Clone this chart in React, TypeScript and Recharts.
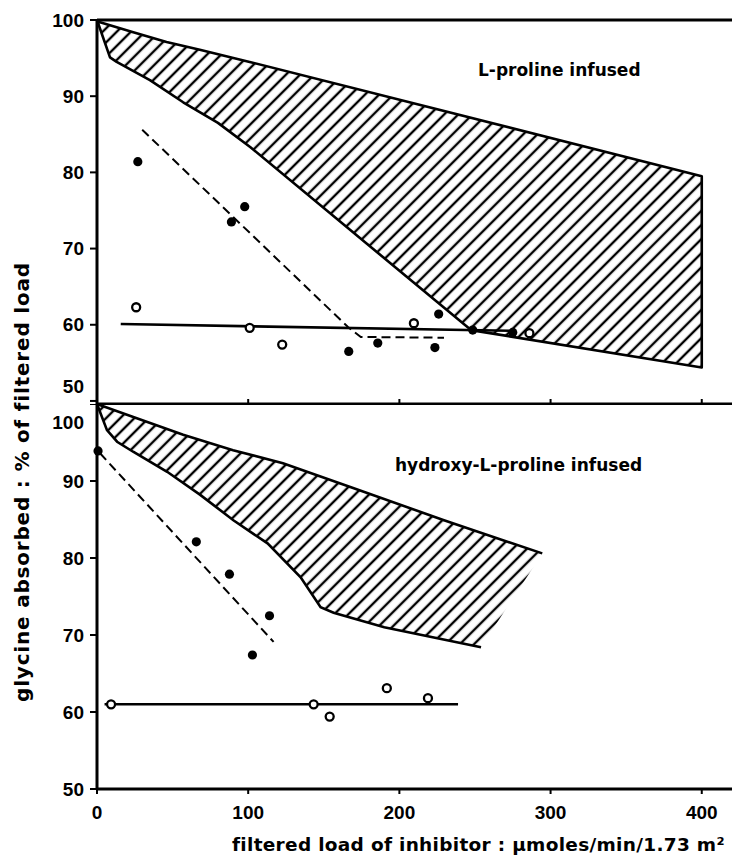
import React from "react";
import { ComposedChart, XAxis, YAxis, Line, Scatter } from "recharts";

// x = filtered load of inhibitor (µmoles/min/1.73 m²), y = glycine absorbed (% of filtered load)

// ---- top panel: L-proline infused
const lpBandUpperX = [0, 2, 24, 46, 68, 101, 400];
const lpBandUpperY = [100, 99.7, 98.4, 97.1, 96.1, 94.5, 79.5];
const lpBandLowerX = [0, 8.6, 13, 35, 57, 80, 101.5, 247.4, 400];
const lpBandLowerY = [100, 95.1, 94.5, 92.1, 89.2, 86.5, 83.3, 59.3, 54.4];
const lpFilledX = [27, 88.9, 97.7, 166.5, 185.7, 223.5, 226, 248.5, 275];
const lpFilledY = [81.4, 73.5, 75.5, 56.5, 57.6, 57.0, 61.4, 59.3, 59.0];
const lpOpenX = [25.9, 101, 122.5, 209.6, 286];
const lpOpenY = [62.3, 59.6, 57.4, 60.2, 58.9];
const lpSolidX = [15.7, 275];
const lpSolidY = [60.1, 59.2];
const lpDashX = [29.9, 166, 174.5, 229.5];
const lpDashY = [85.6, 59.7, 58.4, 58.3];

// ---- bottom panel: hydroxy-L-proline infused
const hpBandUpperX = [0, 24, 57, 90, 123, 168, 229.5, 294.5];
const hpBandUpperY = [100, 98.3, 96.0, 94.0, 92.3, 89.2, 84.9, 80.6];
const hpBandLowerX = [0, 6.6, 13.3, 23.9, 46.4, 68.3, 90.2, 112.8, 134.7, 147.9, 156.5, 190, 254];
const hpBandLowerY = [100, 96.6, 95.1, 93.8, 91.2, 88.2, 84.9, 81.9, 77.5, 73.6, 72.9, 71.0, 68.4];
const hpFilledX = [0.7, 65.7, 87.6, 102.8, 114.1];
const hpFilledY = [93.9, 82.1, 77.9, 67.4, 72.5];
const hpOpenX = [9.3, 143.3, 153.9, 191.7, 218.9];
const hpOpenY = [61.0, 61.0, 59.4, 63.1, 61.8];
const hpSolidX = [5, 238.8];
const hpSolidY = [61.0, 61.0];
const hpDashX = [2, 116.8];
const hpDashY = [93.6, 69.1];

const xTicks = [0, 100, 200, 300, 400];
const yTicks = [50, 60, 70, 80, 90, 100];

const zip = (xs: number[], ys: number[]) => xs.map((x, i) => ({ x, y: ys[i] }));
const polygon = (ux: number[], uy: number[], lx: number[], ly: number[]) => [
  ...zip(ux, uy),
  ...zip(lx, ly).reverse(),
];

const TICK_FONT = "'Liberation Sans', Arial, sans-serif";
const TEXT_FONT = "'DejaVu Sans', sans-serif";
const X_DOMAIN: [number, number] = [0, 420];

const FilledDot = (p: any) => <circle cx={p.cx} cy={p.cy} r={4.6} fill="#000" />;
const OpenDot = (p: any) => (
  <circle cx={p.cx} cy={p.cy} r={4} fill="#fff" stroke="#000" strokeWidth={2.3} />
);
const NoDot = () => <g />;
const NoTick = () => <g />;

const makeYTick = (shift: Record<number, number>) => (props: any) => {
  const { y, payload } = props;
  return (
    <text
      x={84}
      y={y + (shift[payload.value] || 0)}
      textAnchor="end"
      dominantBaseline="central"
      fontFamily={TICK_FONT}
      fontWeight="bold"
      fontSize={19}
      fill="#000"
    >
      {payload.value}
    </text>
  );
};

const XTick = (props: any) => {
  const { x, y, payload } = props;
  return (
    <text
      x={x}
      y={y}
      dy="0.71em"
      textAnchor="middle"
      fontFamily={TICK_FONT}
      fontWeight="bold"
      fontSize={19}
      fill="#000"
    >
      {payload.value}
    </text>
  );
};

const HatchDefs = ({ id }: { id: string }) => (
  <defs>
    <pattern id={id} patternUnits="userSpaceOnUse" width={10} height={10} patternTransform="rotate(45)">
      <line x1={5} y1={0} x2={5} y2={10} stroke="#000" strokeWidth={2.4} />
    </pattern>
  </defs>
);

const axisLine = { stroke: "#000", strokeWidth: 3 };
const tickLine = { stroke: "#000", strokeWidth: 2 };

function TopPanel() {
  return (
    <ComposedChart width={732} height={405} margin={{ top: 0, right: 0, bottom: 0, left: 0 }}>
      <HatchDefs id="hatchTop" />
      <XAxis
        xAxisId="top"
        orientation="top"
        dataKey="x"
        type="number"
        domain={X_DOMAIN}
        ticks={[100, 200, 300, 400]}
        interval={0}
        height={20}
        tickSize={5}
        tick={NoTick}
        axisLine={axisLine}
        tickLine={tickLine}
      />
      <XAxis
        dataKey="x"
        type="number"
        domain={X_DOMAIN}
        ticks={[100, 200, 300, 400]}
        interval={0}
        height={1}
        tickSize={-5}
        tick={NoTick}
        axisLine={axisLine}
        tickLine={tickLine}
      />
      <YAxis
        dataKey="y"
        type="number"
        domain={[49.6, 100]}
        ticks={yTicks}
        interval={0}
        width={97}
        tickSize={7}
        tick={makeYTick({ 50: -14 })}
        axisLine={axisLine}
        tickLine={tickLine}
      />
      <Scatter
        data={polygon(lpBandUpperX, lpBandUpperY, lpBandLowerX, lpBandLowerY)}
        dataKey="y"
        shape={NoDot}
        line={{ fill: "url(#hatchTop)", stroke: "#000", strokeWidth: 2.6, strokeLinejoin: "round" }}
        isAnimationActive={false}
      />
      <Line data={zip(lpSolidX, lpSolidY)} dataKey="y" type="linear" stroke="#000" strokeWidth={2.6} dot={false} isAnimationActive={false} />
      <Line data={zip(lpDashX, lpDashY)} dataKey="y" type="linear" stroke="#000" strokeWidth={2} strokeDasharray="9 5" dot={false} isAnimationActive={false} />
      <Scatter data={zip(lpFilledX, lpFilledY)} dataKey="y" shape={FilledDot} isAnimationActive={false} />
      <Scatter data={zip(lpOpenX, lpOpenY)} dataKey="y" shape={OpenDot} isAnimationActive={false} />
    </ComposedChart>
  );
}

function BottomPanel() {
  return (
    <ComposedChart width={732} height={457} margin={{ top: 0, right: 0, bottom: 0, left: 0 }}>
      <HatchDefs id="hatchBottom" />
      <XAxis
        dataKey="x"
        type="number"
        domain={X_DOMAIN}
        ticks={xTicks}
        interval={0}
        height={72}
        tickSize={5}
        tickMargin={12}
        tick={XTick}
        axisLine={axisLine}
        tickLine={tickLine}
      />
      <YAxis
        dataKey="y"
        type="number"
        domain={[50, 100]}
        ticks={yTicks}
        interval={0}
        width={97}
        tickSize={7}
        tick={makeYTick({ 100: 18 })}
        axisLine={axisLine}
        tickLine={tickLine}
      />
      <Scatter
        data={polygon(hpBandUpperX, hpBandUpperY, hpBandLowerX, hpBandLowerY)}
        dataKey="y"
        shape={NoDot}
        line={{ fill: "url(#hatchBottom)", stroke: "none" }}
        isAnimationActive={false}
      />
      <Line data={zip(hpBandUpperX, hpBandUpperY)} dataKey="y" type="linear" stroke="#000" strokeWidth={2.6} dot={false} isAnimationActive={false} />
      <Line data={zip(hpBandLowerX, hpBandLowerY)} dataKey="y" type="linear" stroke="#000" strokeWidth={2.6} dot={false} isAnimationActive={false} />
      <Line data={zip(hpSolidX, hpSolidY)} dataKey="y" type="linear" stroke="#000" strokeWidth={2.6} dot={false} isAnimationActive={false} />
      <Line data={zip(hpDashX, hpDashY)} dataKey="y" type="linear" stroke="#000" strokeWidth={2} strokeDasharray="9 5" dot={false} isAnimationActive={false} />
      <Scatter data={zip(hpFilledX, hpFilledY)} dataKey="y" shape={FilledDot} isAnimationActive={false} />
      <Scatter data={zip(hpOpenX, hpOpenY)} dataKey="y" shape={OpenDot} isAnimationActive={false} />
    </ComposedChart>
  );
}

const textStyle: React.CSSProperties = {
  position: "absolute",
  fontFamily: TEXT_FONT,
  fontWeight: "bold",
  whiteSpace: "nowrap",
  color: "#000",
  lineHeight: 1,
};

export default function App() {
  return (
    <div
      style={{
        position: "absolute",
        left: 0,
        top: 0,
        width: 732,
        height: 861,
        overflow: "hidden",
        background: "#fff",
      }}
    >
      <div style={{ position: "absolute", left: 0, top: 0 }}>
        <TopPanel />
      </div>
      <div style={{ position: "absolute", left: 0, top: 404 }}>
        <BottomPanel />
      </div>
      <div style={{ ...textStyle, left: 478, top: 62, fontSize: 17 }}>L-proline infused</div>
      <div style={{ ...textStyle, left: 395, top: 457, fontSize: 17 }}>hydroxy-L-proline infused</div>
      <div style={{ ...textStyle, left: 232, top: 836, fontSize: 18.5, letterSpacing: 0.3 }}>
        filtered load of inhibitor : µmoles/min/1.73 m²
      </div>
      <div
        style={{
          ...textStyle,
          left: 22,
          top: 482,
          fontSize: 20,
          letterSpacing: 0.8,
          transform: "translate(-50%, -50%) rotate(-90deg)",
        }}
      >
        glycine absorbed : % of filtered load
      </div>
    </div>
  );
}
